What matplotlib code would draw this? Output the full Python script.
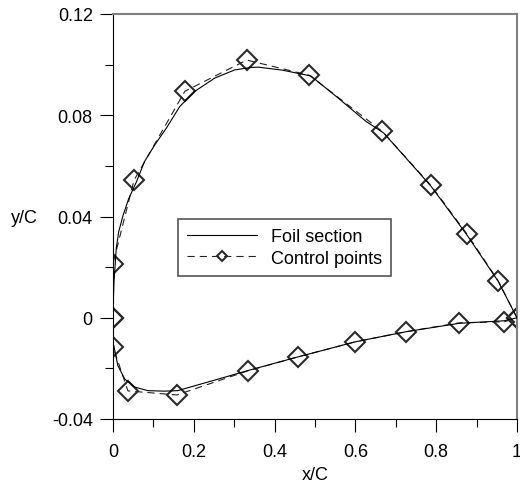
import matplotlib
matplotlib.use("Agg")
import matplotlib.pyplot as plt
from matplotlib.ticker import FixedLocator, FixedFormatter

plt.rcParams['font.family'] = ['Liberation Sans', 'DejaVu Sans']

# Foil section (solid): upper TE -> LE -> lower TE
foil_x = [1.0, 0.953, 0.877, 0.787, 0.67, 0.626, 0.552, 0.49, 0.42, 0.36, 0.342,
          0.301, 0.252, 0.202, 0.165, 0.132, 0.103, 0.078, 0.058, 0.039, 0.025, 0.014,
          0.008, 0.0025, 0.001, 0.0,
          0.0, 0.012, 0.029, 0.054, 0.086, 0.127, 0.16, 0.235, 0.333, 0.457,
          0.60, 0.726, 0.857, 0.968, 1.0]
foil_y = [0.0, 0.0145, 0.0325, 0.052, 0.073, 0.0776, 0.0875, 0.0955, 0.0978, 0.0990, 0.0989,
          0.0979, 0.0947, 0.0894, 0.0834, 0.0749, 0.0682, 0.0617, 0.0537, 0.0471, 0.0405, 0.0339,
          0.0273, 0.0141, 0.0075, 0.0,
          -0.0095, -0.0189, -0.0242, -0.0274, -0.0288, -0.029, -0.0288, -0.0254, -0.0209, -0.0155,
          -0.0095, -0.0055, -0.0022, -0.0012, 0.0]

# Control points (dashed + diamonds)
ctrl_x = [1.0, 0.953, 0.877, 0.787, 0.666, 0.486, 0.331, 0.178, 0.052, 0.0, 0.0, 0.0,
          0.0, 0.037, 0.158, 0.333, 0.457, 0.600, 0.726, 0.857, 0.968, 1.0]
ctrl_y = [0.0, 0.0147, 0.0329, 0.0523, 0.0737, 0.0958, 0.1018, 0.0895, 0.0543, 0.0214, 0.0, 0.0,
          -0.0115, -0.0289, -0.0305, -0.0210, -0.0155, -0.0095, -0.0055, -0.0020, -0.0016, 0.0]

x_ticks = [0, 0.2, 0.4, 0.6, 0.8, 1.0]
x_tick_labels = ['0', '0.2', '0.4', '0.6', '0.8', '1']
x_minor = [0.1, 0.3, 0.5, 0.7, 0.9]
y_ticks = [-0.04, 0.0, 0.04, 0.08, 0.12]
y_tick_labels = ['-0.04', '0', '0.04', '0.08', '0.12']
y_minor = [-0.02, 0.02, 0.06, 0.10]

FS = 13

fig = plt.figure(figsize=(5.2, 4.85), dpi=100)
ax = fig.add_axes([113/520, 1 - 420/485, (517-113)/520, (420-15)/485])

ax.plot(foil_x, foil_y, color='black', lw=0.8, label='Foil section', zorder=3)
ax.plot(ctrl_x, ctrl_y, color='#222222', lw=0.8, dashes=(6.5, 4.5),
        marker='D', ms=10.5, mfc='none', mec='#2a2a2a', mew=1.5,
        label='Control points', zorder=2)

ax.set_xlim(0, 1)
ax.set_ylim(-0.04, 0.12)
ax.xaxis.set_major_locator(FixedLocator(x_ticks))
ax.xaxis.set_major_formatter(FixedFormatter(x_tick_labels))
ax.xaxis.set_minor_locator(FixedLocator(x_minor))
ax.yaxis.set_major_locator(FixedLocator(y_ticks))
ax.yaxis.set_major_formatter(FixedFormatter(y_tick_labels))
ax.yaxis.set_minor_locator(FixedLocator(y_minor))

ax.tick_params(which='major', direction='out', length=9.5, width=0.8,
               labelsize=FS, top=False, right=False)
ax.tick_params(which='minor', direction='out', length=5.5, width=0.8,
               top=False, right=False)
ax.tick_params(axis='x', which='major', pad=8)
ax.tick_params(axis='y', which='major', pad=5)

for s in ['left', 'bottom']:
    ax.spines[s].set_color('black')
    ax.spines[s].set_linewidth(0.8)
for s in ['top', 'right']:
    ax.spines[s].set_color('#808080')
    ax.spines[s].set_linewidth(1.5)

ax.set_xlabel('x/C', fontsize=FS, labelpad=4)
ax.set_ylabel('y/C', fontsize=FS, rotation=0, labelpad=0, va='center', ha='center')
ax.yaxis.set_label_coords((24 - 113) / 404, (420 - 219) / 405)

leg = ax.legend(loc='upper left', bbox_to_anchor=((178-113)/404, (420-220)/405),
                borderaxespad=0, fontsize=FS, handlelength=3.9, handletextpad=0.75,
                markerscale=0.45, fancybox=False, framealpha=1, borderpad=0.5,
                labelspacing=0.25)
leg.get_frame().set_edgecolor('#555555')
leg.get_frame().set_linewidth(1.2)

fig.savefig('out.png', dpi=100)
